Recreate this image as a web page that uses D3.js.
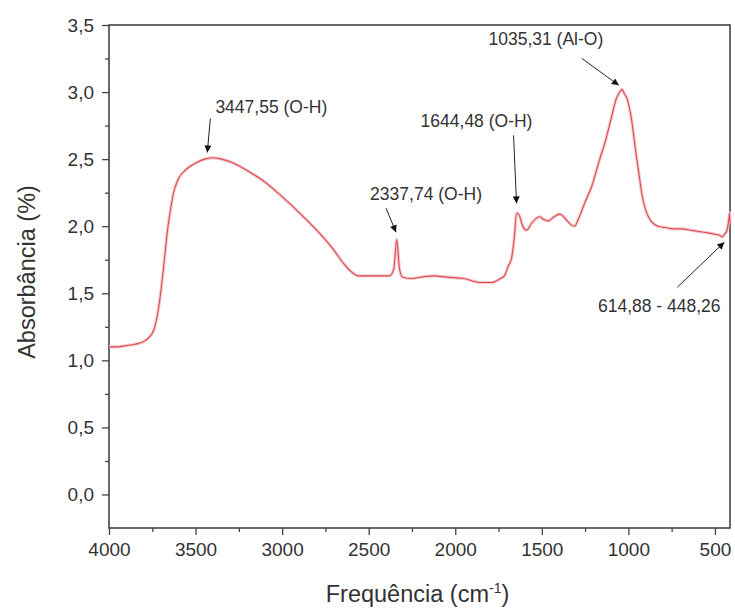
<!DOCTYPE html>
<html>
<head>
<meta charset="utf-8">
<script src="https://cdn.jsdelivr.net/npm/d3@7"></script>
<style>
  body { margin: 0; background: #fff; }
  svg { display: block; font-family: 'Liberation Sans', Arial, sans-serif; }
</style>
</head>
<body>
<svg id="chart" width="735" height="610"></svg>
<script>
// espectro FTIR: numero de onda (cm-1) e absorbancia
const wavenumbers = [4000, 3950, 3900, 3850, 3800, 3770, 3740, 3720, 3700, 3680, 3664, 3645, 3629, 3600, 3548, 3500,
  3447, 3400, 3350, 3300, 3250, 3183, 3100, 3000, 2900, 2800, 2700, 2650, 2600, 2560, 2450, 2380, 2355, 2338, 2322,
  2303, 2250, 2200, 2122, 2050, 1950, 1850, 1790, 1740, 1716, 1695, 1675, 1660, 1645, 1630, 1610, 1588, 1560, 1530,
  1512, 1490, 1462, 1430, 1395, 1360, 1330, 1310, 1290, 1250, 1211, 1170, 1136, 1100, 1070, 1050, 1037, 1020, 1010,
  997, 980, 962, 940, 922, 900, 880, 864, 830, 788, 740, 690, 640, 591, 540, 500, 470, 458, 445, 430, 420, 415, 413]
const absorbance = [1.10, 1.10, 1.11, 1.12, 1.14, 1.17, 1.23, 1.34, 1.52, 1.75, 1.95, 2.12, 2.24, 2.35, 2.43, 2.47,
  2.50, 2.51, 2.50, 2.48, 2.45, 2.40, 2.33, 2.22, 2.10, 1.97, 1.82, 1.73, 1.66, 1.63, 1.63, 1.63, 1.68, 1.90, 1.68,
  1.62, 1.61, 1.62, 1.63, 1.62, 1.61, 1.58, 1.58, 1.61, 1.63, 1.70, 1.76, 1.90, 2.10, 2.08, 2.00, 1.97, 2.02, 2.06,
  2.07, 2.05, 2.04, 2.07, 2.09, 2.05, 2.01, 2.00, 2.05, 2.18, 2.30, 2.48, 2.62, 2.80, 2.95, 3.00, 3.02, 2.98, 2.96,
  2.90, 2.78, 2.60, 2.40, 2.24, 2.12, 2.06, 2.03, 2.00, 1.99, 1.98, 1.98, 1.97, 1.96, 1.95, 1.94, 1.93, 1.92, 1.94,
  1.97, 2.05, 2.10, 2.02]

// anotacoes dos picos
const peakLabels = ['3447,55 (O-H)', '2337,74 (O-H)', '1644,48 (O-H)', '1035,31 (Al-O)', '614,88 - 448,26']
const peakWave = [3432, 2342, 1646, 1055, 446]
const peakAbs = [2.55, 1.955, 2.17, 3.05, 1.88]

const xTicks = [4000, 3500, 3000, 2500, 2000, 1500, 1000, 500]
const yTicks = [0, 0.5, 1, 1.5, 2, 2.5, 3, 3.5]

const svg = d3.select('#chart')
const margin = { top: 25, right: 5, bottom: 82, left: 109 }
const width = 735 - margin.left - margin.right
const height = 610 - margin.top - margin.bottom
const g = svg.append('g').attr('transform', `translate(${margin.left},${margin.top})`)

const x = d3.scaleLinear().domain([4000, 413]).range([0, width])
const y = d3.scaleLinear().domain([-0.25, 3.5]).range([height, 0])

const br = d3.formatLocale({ decimal: ',', thousands: '.', grouping: [3], currency: ['', ''] })
const axisColor = '#444'

// ticks menores
g.append('g')
  .attr('transform', `translate(0,${height})`)
  .call(d3.axisBottom(x).tickValues(d3.range(3750, 400, -500)).tickSize(4).tickFormat(''))
g.append('g')
  .call(d3.axisLeft(y).tickValues(d3.range(0.25, 3.5, 0.5)).tickSize(4).tickFormat(''))

g.append('g')
  .attr('transform', `translate(0,${height})`)
  .call(d3.axisBottom(x).tickValues(xTicks).tickSize(7).tickPadding(8).tickFormat(d3.format('d')))
g.append('g')
  .call(d3.axisLeft(y).tickValues(yTicks).tickSize(7).tickPadding(8).tickFormat(br.format('.1f')))

g.selectAll('.domain').remove()
g.selectAll('.tick line').attr('stroke', axisColor).attr('stroke-width', 1.3)
g.selectAll('.tick text').attr('fill', '#333').attr('font-size', 19)
  .attr('font-family', "'Liberation Sans', Arial, sans-serif")

// moldura
g.append('rect')
  .attr('width', width).attr('height', height)
  .attr('fill', 'none').attr('stroke', axisColor).attr('stroke-width', 1.6)

// curva
const pts = wavenumbers.map((w, i) => [w, absorbance[i]])
const line = d3.line().x(d => x(d[0])).y(d => y(d[1])).curve(d3.curveMonotoneX)
g.append('path').datum(pts)
  .attr('d', line).attr('fill', 'none')
  .attr('stroke', '#f6c9cc').attr('stroke-width', 3.2)
g.append('path').datum(pts)
  .attr('d', line).attr('fill', 'none')
  .attr('stroke', '#dc4c57').attr('stroke-width', 1.1)

// setas
svg.append('defs').append('marker')
  .attr('id', 'arrow')
  .attr('viewBox', '0 0 10 10')
  .attr('refX', 10).attr('refY', 5)
  .attr('markerWidth', 9).attr('markerHeight', 7)
  .attr('markerUnits', 'userSpaceOnUse')
  .attr('orient', 'auto')
  .append('path').attr('d', 'M0,0L10,5L0,10Z').attr('fill', '#111')

const tailOffset = [[3, -34], [-10, -24], [-3, -68], [-37, -27], [-47, 45]]
const textOffset = [[64, -39], [30, -32], [-40, -76], [-73, -40], [-65, 70]]

const ann = g.selectAll('.ann')
  .data(peakLabels.map((t, i) => ({ t, w: peakWave[i], a: peakAbs[i], i })))
  .enter().append('g').attr('class', 'ann')
ann.append('line')
  .attr('x1', d => x(d.w) + tailOffset[d.i][0])
  .attr('y1', d => y(d.a) + tailOffset[d.i][1])
  .attr('x2', d => x(d.w))
  .attr('y2', d => y(d.a))
  .attr('stroke', '#222').attr('stroke-width', 1)
  .attr('marker-end', 'url(#arrow)')
ann.append('text')
  .attr('x', d => x(d.w) + textOffset[d.i][0])
  .attr('y', d => y(d.a) + textOffset[d.i][1])
  .attr('text-anchor', 'middle')
  .attr('font-size', 17.5)
  .attr('fill', '#333')
  .text(d => d.t)

// titulos dos eixos
const xt = svg.append('text')
  .attr('x', margin.left + width / 2 - 2)
  .attr('y', 602)
  .attr('text-anchor', 'middle')
  .attr('font-size', 23.5)
  .attr('fill', '#333')
xt.append('tspan').text('Frequência (cm')
xt.append('tspan').attr('dy', -9).attr('font-size', 14).text('-1')
xt.append('tspan').attr('dy', 9).text(')')

svg.append('text')
  .attr('transform', `translate(35,${margin.top + 247}) rotate(-90)`)
  .attr('text-anchor', 'middle')
  .attr('font-size', 23.5)
  .attr('fill', '#333')
  .text('Absorbância (%)')
</script>
</body>
</html>
